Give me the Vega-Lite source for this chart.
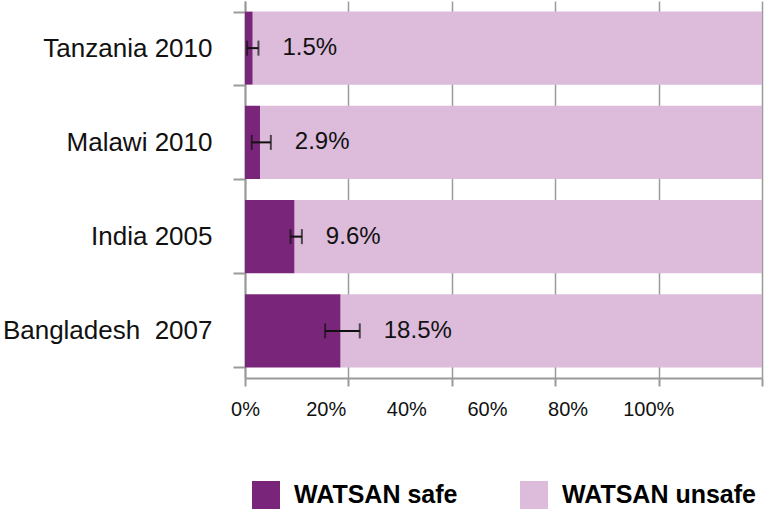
{
  "$schema": "https://vega.github.io/schema/vega-lite/v6.json",
  "autosize": {"type": "none"},
  "width": 517,
  "height": 377,
  "padding": {"left": 245, "top": 1, "right": 2, "bottom": 143},
  "config": {
    "font": "Liberation Sans",
    "view": {"stroke": null},
    "axis": {"domainColor": "#9a9a9a", "domainWidth": 2, "tickColor": "#9a9a9a", "tickWidth": 2, "labelColor": "#111111", "title": null}
  },
  "datasets": {
    "bars": [
      {"country": "Tanzania 2010", "category": "WATSAN safe", "value": 1.5},
      {"country": "Tanzania 2010", "category": "WATSAN unsafe", "value": 98.5},
      {"country": "Malawi 2010", "category": "WATSAN safe", "value": 2.9},
      {"country": "Malawi 2010", "category": "WATSAN unsafe", "value": 97.1},
      {"country": "India 2005", "category": "WATSAN safe", "value": 9.6},
      {"country": "India 2005", "category": "WATSAN unsafe", "value": 90.4},
      {"country": "Bangladesh\u00a0 2007", "category": "WATSAN safe", "value": 18.5},
      {"country": "Bangladesh\u00a0 2007", "category": "WATSAN unsafe", "value": 81.5}
    ],
    "errors": [
      {"country": "Tanzania 2010", "lo": 0.4, "hi": 2.6, "label": "1.5%"},
      {"country": "Malawi 2010", "lo": 1.3, "hi": 5.0, "label": "2.9%"},
      {"country": "India 2005", "lo": 8.8, "hi": 11.0, "label": "9.6%"},
      {"country": "Bangladesh\u00a0 2007", "lo": 15.5, "hi": 22.2, "label": "18.5%"}
    ]
  },
  "layer": [
    {
      "data": {"name": "bars"},
      "mark": {"type": "bar"},
      "encoding": {
        "y": {
          "field": "country", "type": "nominal",
          "sort": ["Tanzania 2010", "Malawi 2010", "India 2005", "Bangladesh\u00a0 2007"],
          "scale": {"paddingInner": 0.225, "paddingOuter": 0.1125},
          "axis": {
            "tickBand": "extent", "tickSize": 12, "labelFontSize": 26, "labelPadding": 21, "labelLimit": 400, "grid": false
          }
        },
        "x": {
          "field": "value", "type": "quantitative", "stack": "zero",
          "scale": {"domain": [0, 100], "nice": false},
          "axis": {
            "values": [0, 15.6, 20, 31.2, 40, 46.8, 60, 62.4, 78, 80, 100],
            "labelExpr": "abs(datum.value/15.6 - round(datum.value/15.6)) < 0.001 ? (round(datum.value/15.6)*20) + '%' : ''",
            "labelFlush": false,
            "labelOverlap": false,
            "labelFontSize": 20,
            "labelPadding": 13,
            "tickSize": 8,
            "grid": true,
            "gridColor": "#9a9a9a",
            "gridWidth": 1.5,
            "tickOpacity": {"condition": {"test": "datum.value % 20 === 0", "value": 1}, "value": 0},
            "gridOpacity": {"condition": {"test": "datum.value % 20 === 0", "value": 1}, "value": 0}
          }
        },
        "color": {
          "field": "category", "type": "nominal",
          "scale": {"domain": ["WATSAN safe", "WATSAN unsafe"], "range": ["#79267a", "#ddbbdb"]},
          "legend": {
            "title": null, "orient": "none", "direction": "horizontal",
            "legendX": 7, "legendY": 480, "padding": 0,
            "symbolType": "square", "symbolSize": 784, "symbolStrokeWidth": 0, "symbolOpacity": 1,
            "labelFontSize": 25, "labelFontWeight": "bold", "labelColor": "#000000",
            "labelOffset": 14, "columnPadding": 62, "labelLimit": 400
          }
        },
        "order": {"field": "category", "sort": "ascending"}
      }
    },
    {
      "data": {"name": "errors"},
      "mark": {"type": "rule", "color": "#111111", "strokeWidth": 2},
      "encoding": {
        "y": {"field": "country", "type": "nominal", "sort": ["Tanzania 2010", "Malawi 2010", "India 2005", "Bangladesh\u00a0 2007"]},
        "x": {"field": "lo", "type": "quantitative"},
        "x2": {"field": "hi"}
      }
    },
    {
      "data": {"name": "errors"},
      "mark": {"type": "tick", "orient": "vertical", "color": "#111111", "size": 15, "thickness": 2},
      "encoding": {
        "y": {"field": "country", "type": "nominal", "sort": ["Tanzania 2010", "Malawi 2010", "India 2005", "Bangladesh\u00a0 2007"]},
        "x": {"field": "lo", "type": "quantitative"}
      }
    },
    {
      "data": {"name": "errors"},
      "mark": {"type": "tick", "orient": "vertical", "color": "#111111", "size": 15, "thickness": 2},
      "encoding": {
        "y": {"field": "country", "type": "nominal", "sort": ["Tanzania 2010", "Malawi 2010", "India 2005", "Bangladesh\u00a0 2007"]},
        "x": {"field": "hi", "type": "quantitative"}
      }
    },
    {
      "data": {"name": "errors"},
      "mark": {"type": "text", "align": "left", "baseline": "middle", "dx": 24, "fontSize": 24, "color": "#111111"},
      "encoding": {
        "y": {"field": "country", "type": "nominal", "sort": ["Tanzania 2010", "Malawi 2010", "India 2005", "Bangladesh\u00a0 2007"]},
        "x": {"field": "hi", "type": "quantitative"},
        "text": {"field": "label"}
      }
    }
  ]
}
